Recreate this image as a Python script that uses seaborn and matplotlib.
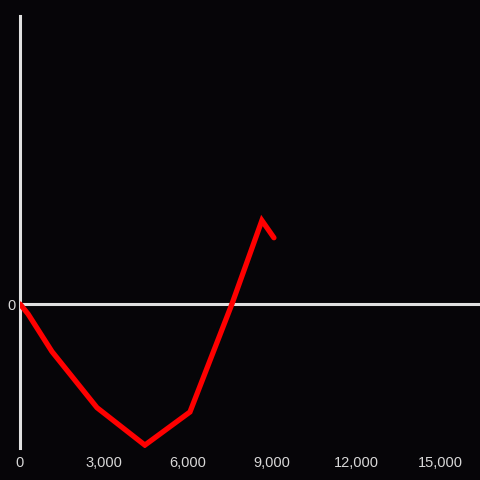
import numpy as np
import pandas as pd
import matplotlib
matplotlib.use("Agg")
import matplotlib.pyplot as plt
import seaborn as sns

# values
x_vals = [0, 290, 1140, 2750, 4460, 6070, 7570, 8640, 9070]
y_vals = [0.0, -0.07, -0.33, -0.72, -0.98, -0.75, 0.0, 0.58, 0.46]
x_ticks = [0, 3000, 6000, 9000, 12000, 15000]
x_labels = ["0", "3,000", "6,000", "9,000", "12,000", "15,000"]

df = pd.DataFrame({"x": x_vals, "y": y_vals})

bg = "#060508"
sns.set_theme(style="dark", rc={"axes.facecolor": bg, "figure.facecolor": bg})
plt.rcParams["font.family"] = ["Liberation Sans", "DejaVu Sans"]

fig = plt.figure(figsize=(4.8, 4.8), dpi=100)
ax = fig.add_axes([20 / 480, 32 / 480, 460 / 480, 432 / 480])

sns.lineplot(data=df, x="x", y="y", ax=ax, color="#ff0000", linewidth=3.8,
             solid_joinstyle="miter", zorder=3)
ax.axhline(0, color="#e0e0e0", linewidth=2.2, zorder=2)

ax.set_xlim(0, 16430)
ax.set_ylim(-1.0, 2.0)
ax.set_xticks(x_ticks)
ax.set_xticklabels(x_labels)
ax.set_yticks([0])
ax.set_yticklabels(["0"])
ax.tick_params(axis="both", length=0, labelsize=10.5, colors="#d8d8d8")
ax.tick_params(axis="x", pad=6)
ax.tick_params(axis="y", pad=3)
ax.set_xlabel("")
ax.set_ylabel("")
ax.grid(False)

for side in ["top", "right", "bottom"]:
    ax.spines[side].set_visible(False)
ax.spines["left"].set_color("#e0e0e0")
ax.spines["left"].set_linewidth(2.2)

fig.savefig("out.png", dpi=100, facecolor=bg)
